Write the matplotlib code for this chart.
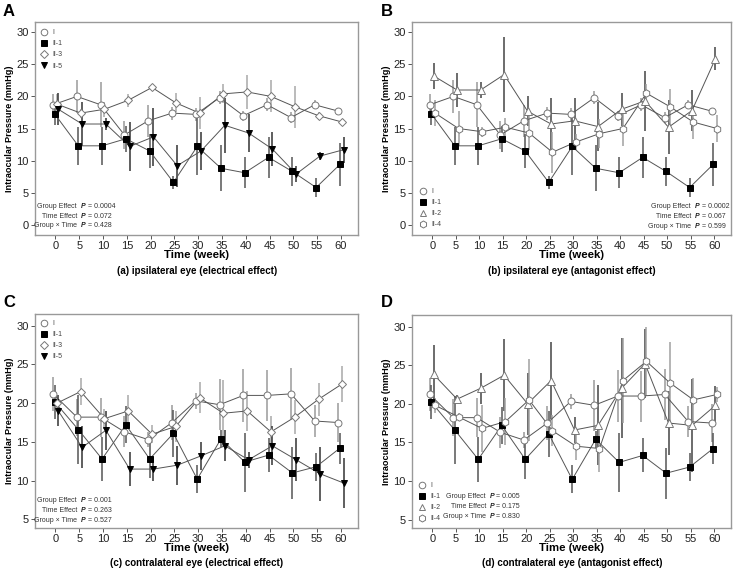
import matplotlib
matplotlib.use("Agg")
import matplotlib.pyplot as plt
import matplotlib.transforms as mtransforms
import numpy as np

plt.rcParams["font.family"] = ["Liberation Sans", "DejaVu Sans"]

weeks = [0, 5, 10, 15, 20, 25, 30, 35, 40, 45, 50, 55, 60]

# Panel A / B (ipsilateral)
ipsi_I = [18.7, 20.0, 18.7, 14.0, 16.2, 17.4, 17.2, 19.8, 17.0, 18.7, 16.7, 18.7, 17.7]
ipsi_I_sd = [1.6, 2.6, 3.5, 2.2, 2.5, 1.0, 1.0, 1.0, 0.8, 1.0, 0.8, 0.7, 0.5]
ipsi_II1 = [17.3, 12.3, 12.3, 13.4, 11.5, 6.6, 12.2, 8.8, 8.1, 10.5, 8.3, 5.8, 9.4]
ipsi_II1_sd = [1.7, 3.0, 3.0, 2.0, 2.7, 1.0, 4.5, 3.6, 2.4, 3.2, 2.3, 1.5, 3.4]
ipsi_II3 = [18.8, 17.4, 18.0, 19.4, 21.4, 19.0, 17.4, 20.4, 20.7, 20.0, 18.4, 17.0, 16.0]
ipsi_II3_sd = [1.5, 0.7, 1.2, 1.0, 0.4, 1.5, 2.5, 1.5, 2.6, 2.5, 3.3, 0.6, 0.4]
ipsi_II5 = [18.0, 15.7, 15.7, 12.2, 13.7, 9.2, 11.5, 15.5, 14.3, 11.8, 7.9, 10.7, 11.7]
ipsi_II5_sd = [2.5, 3.5, 1.0, 3.8, 4.5, 3.3, 3.0, 4.3, 3.0, 2.7, 1.3, 0.6, 2.0]
ipsi_II2 = [23.2, 21.0, 21.0, 23.4, 17.7, 15.7, 16.2, 15.3, 18.0, 19.3, 15.2, 17.8, 25.9]
ipsi_II2_sd = [2.0, 2.7, 1.3, 5.8, 2.3, 4.0, 3.5, 3.8, 2.6, 4.7, 4.2, 3.2, 1.8]
ipsi_II4 = [17.4, 15.0, 14.5, 15.2, 14.3, 11.3, 12.9, 14.2, 15.0, 20.5, 18.4, 16.0, 15.0]
ipsi_II4_sd = [2.0, 2.7, 0.8, 1.5, 2.7, 3.2, 1.2, 2.3, 2.8, 1.5, 2.8, 2.6, 2.1]

# Panel C / D (contralateral)
contra_I = [21.2, 18.2, 18.2, 16.3, 15.3, 17.5, 20.3, 19.8, 21.0, 21.0, 21.2, 17.7, 17.5]
contra_I_sd = [2.2, 2.4, 2.5, 2.0, 1.0, 2.2, 1.0, 3.3, 3.4, 3.3, 3.3, 2.0, 2.5]
contra_II1 = [20.2, 16.6, 12.8, 17.2, 12.8, 16.1, 10.2, 15.4, 12.4, 13.3, 11.0, 11.8, 14.2]
contra_II1_sd = [2.2, 4.4, 2.9, 2.4, 2.5, 3.0, 1.8, 1.1, 3.8, 2.2, 3.3, 1.8, 2.0]
contra_II3 = [20.0, 21.5, 18.0, 19.0, 16.0, 17.0, 20.7, 18.7, 19.0, 16.3, 18.2, 20.5, 22.5]
contra_II3_sd = [0.8, 1.7, 1.3, 2.0, 1.2, 2.0, 2.0, 4.3, 2.6, 2.0, 2.2, 2.1, 2.3]
contra_II5 = [19.0, 14.3, 16.5, 11.5, 11.5, 12.0, 13.2, 14.5, 12.7, 14.5, 12.7, 10.9, 9.7]
contra_II5_sd = [2.0, 2.7, 2.5, 2.2, 1.5, 2.5, 1.8, 2.0, 1.0, 2.5, 2.8, 3.5, 3.2]
contra_II2 = [23.8, 20.6, 22.0, 23.7, 20.0, 23.0, 16.6, 17.2, 22.0, 25.2, 17.5, 17.2, 19.8]
contra_II2_sd = [3.8, 0.5, 2.0, 4.7, 4.0, 5.0, 1.7, 5.2, 6.5, 4.5, 4.2, 6.0, 2.5]
contra_II4 = [19.8, 18.3, 16.8, 17.7, 20.5, 16.5, 14.5, 14.2, 23.0, 25.5, 22.7, 20.5, 21.2]
contra_II4_sd = [1.0, 0.5, 3.0, 3.0, 5.3, 2.0, 1.8, 3.0, 5.5, 4.5, 5.3, 2.8, 1.0]

stats_a = ["0.0004", "0.072", "0.428"]
stats_b = ["0.0002", "0.067", "0.599"]
stats_c = ["0.001", "0.263", "0.527"]
stats_d = ["0.005", "0.175", "0.830"]

W, H = 740, 573
fig = plt.figure(figsize=(7.4, 5.73), dpi=100)
fig.patch.set_facecolor("white")


def px_axes(l, t, r, b):
    return fig.add_axes([l / W, 1 - b / H, (r - l) / W, (b - t) / H])


def fx(x):
    return x / W


def fy(y):
    return 1 - y / H


STYLES = {
    "I": dict(marker="o", mfc="white", mec="#777777", ms=5.0, off=-0.5, ecol="#9a9a9a"),
    "II-1": dict(marker="s", mfc="black", mec="black", ms=4.4, off=-0.2, ecol="#555555"),
    "II-3": dict(marker="D", mfc="white", mec="#777777", ms=4.0, off=0.3, ecol="#a8a8a8"),
    "II-5": dict(marker="v", mfc="black", mec="black", ms=5.0, off=0.6, ecol="#333333"),
    "II-2": dict(marker="^", mfc="white", mec="#777777", ms=5.3, off=0.3, ecol="#444444"),
    "II-4": dict(marker="h", mfc="white", mec="#777777", ms=5.3, off=0.6, ecol="#a0a0a0"),
}


def draw_panel(ax, series, ylim, yticks, xlab_y):
    handles = []
    x = np.array(weeks, dtype=float)
    for name, vals, sd in series:
        st = STYLES[name]
        xx = x + st["off"]
        ax.errorbar(xx, vals, yerr=sd, fmt="none", ecolor=st["ecol"], elinewidth=1.1,
                    capsize=0, zorder=2)
        ax.plot(xx, vals, color="#555555", lw=0.7, zorder=3)
        h, = ax.plot(xx, vals, ls="none", marker=st["marker"], mfc=st["mfc"],
                     mec=st["mec"], ms=st["ms"], mew=0.7, zorder=4, label=name)
        handles.append(h)
    ax.set_xlim(-4.3, 63.6)
    ax.set_ylim(*ylim)
    ax.set_xticks(weeks)
    ax.set_yticks(yticks)
    ax.tick_params(axis="both", labelsize=8, colors="#555555", labelcolor="#222222",
                   length=3, width=0.7, pad=1.5)
    for sp in ax.spines.values():
        sp.set_color("#999999")
        sp.set_linewidth(1.0)
    ax.set_xlabel("Time (week)", fontsize=8.2, fontweight="bold")
    tr = mtransforms.blended_transform_factory(ax.transAxes, fig.transFigure)
    ax.xaxis.set_label_coords(0.5, fy(xlab_y), transform=tr)
    ax.xaxis.label.set_verticalalignment("center")
    ax.set_ylabel("Intraocular Pressure (mmHg)", fontsize=6.6, fontweight="bold", labelpad=1.5)
    return handles


def stats_text(xr, ys, vals):
    labels = ["Group Effect", "Time Effect", "Group \u00d7 Time"]
    for lab, v, y in zip(labels, vals, ys):
        fig.text(fx(xr), fy(y), lab, ha="right", va="center", fontsize=5.0, color="#333333")
        fig.text(fx(xr + 4), fy(y), "P", ha="left", va="center", fontsize=5.0,
                 color="#222222", fontweight="bold", fontstyle="italic")
        fig.text(fx(xr + 10.5), fy(y), "= " + v, ha="left", va="center",
                 fontsize=5.0, color="#333333")


def legend(ax, handles, x, y):
    leg = ax.legend(handles=handles, loc="upper left",
                    bbox_to_anchor=(fx(x), fy(y)), bbox_transform=fig.transFigure,
                    frameon=False, fontsize=5.0, handlelength=0.7, handletextpad=0.8,
                    labelspacing=0.6, borderpad=0, borderaxespad=0, markerscale=0.95)
    for t in leg.get_texts():
        t.set_color("#444444")


# Panel A
axA = px_axes(35, 22, 358, 235)
hA = draw_panel(axA, [("I", ipsi_I, ipsi_I_sd), ("II-1", ipsi_II1, ipsi_II1_sd),
                      ("II-3", ipsi_II3, ipsi_II3_sd), ("II-5", ipsi_II5, ipsi_II5_sd)],
                (-1.6, 31.6), [0, 5, 10, 15, 20, 25, 30], 255)
legend(axA, hA, 42, 29)
stats_text(77, [206.7, 216, 225.3], stats_a)
fig.text(fx(3), fy(12), "A", fontsize=12, fontweight="bold", va="center", ha="left")
fig.text(fx(197), fy(271.5), "(a) ipsilateral eye (electrical effect)", fontsize=7,
         fontweight="bold", ha="center", va="center")

# Panel B
axB = px_axes(412, 22, 731, 235)
hB = draw_panel(axB, [("I", ipsi_I, ipsi_I_sd), ("II-1", ipsi_II1, ipsi_II1_sd),
                      ("II-2", ipsi_II2, ipsi_II2_sd), ("II-4", ipsi_II4, ipsi_II4_sd)],
                (-1.6, 31.6), [0, 5, 10, 15, 20, 25, 30], 255)
legend(axB, hB, 421, 188)
stats_text(691, [207, 217, 226], stats_b)
fig.text(fx(381), fy(12), "B", fontsize=12, fontweight="bold", va="center", ha="left")
fig.text(fx(572), fy(271.5), "(b) ipsilateral eye (antagonist effect)", fontsize=7,
         fontweight="bold", ha="center", va="center")

# Panel C
axC = px_axes(35, 314, 358, 528)
hC = draw_panel(axC, [("I", contra_I, contra_I_sd), ("II-1", contra_II1, contra_II1_sd),
                      ("II-3", contra_II3, contra_II3_sd), ("II-5", contra_II5, contra_II5_sd)],
                (3.9, 31.5), [5, 10, 15, 20, 25, 30], 548)
legend(axC, hC, 42, 320)
stats_text(77, [500.7, 510.3, 520], stats_c)
fig.text(fx(3), fy(303), "C", fontsize=12, fontweight="bold", va="center", ha="left")
fig.text(fx(197), fy(563.5), "(c) contralateral eye (electrical effect)", fontsize=7,
         fontweight="bold", ha="center", va="center")

# Panel D
axD = px_axes(412, 315, 731, 528)
hD = draw_panel(axD, [("I", contra_I, contra_I_sd), ("II-1", contra_II1, contra_II1_sd),
                      ("II-2", contra_II2, contra_II2_sd), ("II-4", contra_II4, contra_II4_sd)],
                (3.9, 31.5), [5, 10, 15, 20, 25, 30], 548)
legend(axD, hD, 420, 482)
stats_text(486, [497, 507, 516], stats_d)
fig.text(fx(381), fy(303), "D", fontsize=12, fontweight="bold", va="center", ha="left")
fig.text(fx(572), fy(563.5), "(d) contralateral eye (antagonist effect)", fontsize=7,
         fontweight="bold", ha="center", va="center")

fig.savefig("out.png", dpi=100, facecolor="white")
